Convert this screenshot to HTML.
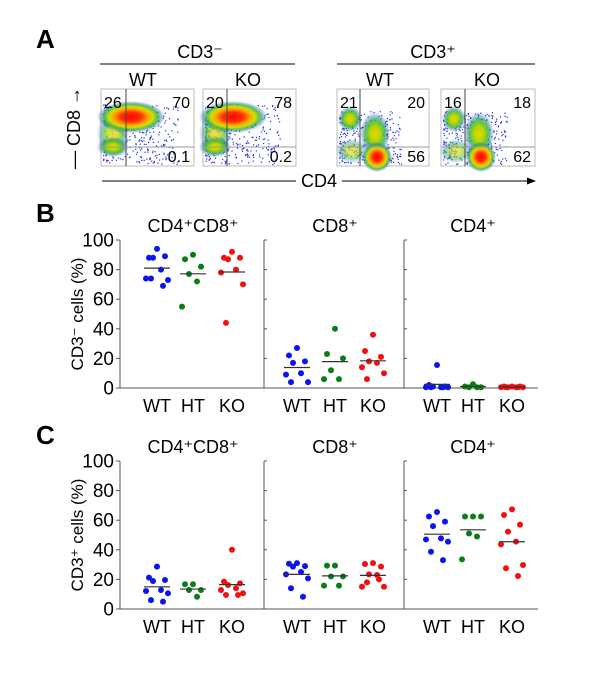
<!DOCTYPE html>
<html><head><meta charset="utf-8"><style>
body{margin:0;background:#fff;}
svg{display:block;font-family:"Liberation Sans",sans-serif;}
</style></head><body>
<svg id="fig" width="600" height="676" viewBox="0 0 600 676" xmlns="http://www.w3.org/2000/svg">
<defs>
<radialGradient id="heat" cx="50%" cy="50%" r="50%">
<stop offset="0" stop-color="#ff0000"/><stop offset="0.3" stop-color="#ff3000"/><stop offset="0.5" stop-color="#ffa000"/><stop offset="0.65" stop-color="#d0e000"/><stop offset="0.8" stop-color="#30b040" stop-opacity="0.8"/><stop offset="1" stop-color="#2040ff" stop-opacity="0"/>
</radialGradient>
<radialGradient id="heatG" cx="50%" cy="50%" r="50%">
<stop offset="0" stop-color="#f0d000"/><stop offset="0.35" stop-color="#b0d800"/><stop offset="0.65" stop-color="#30b040" stop-opacity="0.8"/><stop offset="1" stop-color="#2040ff" stop-opacity="0"/>
</radialGradient>
</defs>
<g id="flow"></g>
<g id="panelA-text" font-size="18" fill="#000">
<text x="36" y="48" font-size="26" font-weight="bold">A</text>
<text x="200" y="58" text-anchor="middle">CD3⁻</text>
<line x1="100" y1="64" x2="295" y2="64" stroke="#000" stroke-width="1"/>
<text x="433" y="58" text-anchor="middle">CD3⁺</text>
<line x1="337" y1="64" x2="535" y2="64" stroke="#000" stroke-width="1"/>
<text x="143" y="86" text-anchor="middle">WT</text>
<text x="248" y="86" text-anchor="middle">KO</text>
<text x="380" y="86" text-anchor="middle">WT</text>
<text x="487" y="86" text-anchor="middle">KO</text>
<line x1="102" y1="181" x2="296" y2="181" stroke="#000"/>
<line x1="342" y1="181" x2="530" y2="181" stroke="#000"/>
<polygon points="536,181 527,177.5 527,184.5" fill="#000"/>
<text x="319" y="187" text-anchor="middle">CD4</text>
<g transform="translate(80,128) rotate(-90)"><text x="0" y="0" text-anchor="middle">— CD8 →</text></g>
</g>
<g id="panelB"></g>
<g id="panelC"></g>
</svg>
<script>
// ---- Data ----
const groups = ["WT","HT","KO"];
const subsets = ["CD4⁺CD8⁺","CD8⁺","CD4⁺"];
const yTicks = [0,20,40,60,80,100];
// Panel B: CD3- cells (%)
const bDP_WT=[94,88,89,88,80,74,73,74,69], bDP_HT=[90,87,82,77,72,55], bDP_KO=[92,88,88,87,80,78,70,44];
const bCD8_WT=[27,22,18,17,10,9,4,4], bCD8_HT=[40,23,20,12,6,6], bCD8_KO=[36,25,21,18,17,14,10,6];
const bCD4_WT=[15.5,2,1,1,0.5,0.5,0.5,0.5,0.5], bCD4_HT=[2.5,1,0.5,0.5,0.5], bCD4_KO=[1,1,1,0.5,0.5,0.5,0.5,0.5,0.5];
// Panel C: CD3+ cells (%)
const cDP_WT=[28.6,21.2,19.6,18.9,12.8,12.2,10.6,6,5], cDP_HT=[16.7,16.7,12.8,12.8,8.3], cDP_KO=[40,18.5,17.3,16.2,14,12.8,10.6,9.5,9.5];
const cCD8_WT=[31,30.6,29,28.6,25,23.4,20.7,14,8.3], cCD8_HT=[29.3,29.3,22,22,15.8,15.8], cCD8_KO=[31,30.4,28.6,23.4,23,15,15,18,20];
const cCD4_WT=[65.5,62.5,59,56,47.7,47,45.5,38.7,33], cCD4_HT=[62.5,62.5,62.5,51,49,33.5], cCD4_KO=[67.3,63.5,57,52.3,45.5,43.7,29.7,27.5,22.3];
// Flow quadrant percentages
const flowLabels=[["26","70","0.1"],["20","78","0.2"],["21","20","56"],["16","18","62"]];

const NS="http://www.w3.org/2000/svg";
function mk(tag,attrs,parent){const e=document.createElementNS(NS,tag);for(const k in attrs)e.setAttribute(k,attrs[k]);parent.appendChild(e);return e;}
const colors=["#0a14f0","#0b7d16","#f01010"];
const groupX=[[157,193,232],[297,335,373],[437,473,512]];
const jit=[0,-8,8,-4,4,-11,11,-6,6];

function panel(gid,top,bottom,yTitle,letter,letterY,data,prefix){
  const g=document.getElementById(gid);
  const y=v=>bottom-(v/100)*(bottom-top);
  const L=mk('text',{x:36,y:letterY,'font-size':26,'font-weight':'bold'},g);L.textContent=letter;
  
  
  mk('line',{x1:120,y1:top,x2:120,y2:bottom,stroke:'#555'},g);
  mk('line',{x1:120,y1:bottom,x2:538,y2:bottom,stroke:'#555'},g);
  [264,404].forEach(sx=>{mk('line',{x1:sx,y1:top,x2:sx,y2:bottom,stroke:'#555'},g);
    yTicks.forEach(t=>mk('line',{x1:sx,y1:y(t),x2:sx+3,y2:y(t),stroke:'#555'},g));});
  yTicks.forEach(t=>{mk('line',{x1:116,y1:y(t),x2:120,y2:y(t),stroke:'#555'},g);
    const tx=mk('text',{x:114,y:y(t)+6.5,'text-anchor':'end','font-size':19},g);tx.textContent=t;
    
    });
  const yt=mk('text',{x:0,y:0,'text-anchor':'middle','font-size':17,transform:`translate(83,${(top+bottom)/2}) rotate(-90)`},g);
  yt.textContent=yTitle;
  
  
  subsets.forEach((s,pi)=>{
    const st=mk('text',{x:groupX[pi][1],y:top-8,'text-anchor':'middle','font-size':18},g);st.textContent=s;
    
    
    groups.forEach((gr,gi)=>{
      const cx=groupX[pi][gi];
      const lb=mk('text',{x:cx,y:bottom+24,'text-anchor':'middle','font-size':18},g);lb.textContent=gr;
      
      
      const vals=data[pi][gi];
      vals.forEach((v,i)=>{const c=mk('circle',{cx:cx+jit[i%jit.length],cy:y(v),r:3,fill:colors[gi]},g);
        
        });
      const m=vals.reduce((a,b)=>a+b,0)/vals.length;
      const ml=mk('line',{x1:cx-13,y1:y(m),x2:cx+13,y2:y(m),stroke:'#333','stroke-width':1.2},g);
      
      
    });
  });
}
panel('panelB',240,388,'CD3⁻ cells (%)','B',222,[[bDP_WT,bDP_HT,bDP_KO],[bCD8_WT,bCD8_HT,bCD8_KO],[bCD4_WT,bCD4_HT,bCD4_KO]],'b');
panel('panelC',461,609,'CD3⁺ cells (%)','C',444,[[cDP_WT,cDP_HT,cDP_KO],[cCD8_WT,cCD8_HT,cCD8_KO],[cCD4_WT,cCD4_HT,cCD4_KO]],'c');

// ---- Flow plots (texture) ----
const fg=document.getElementById('flow');
const boxes=[[101,89,194,166,126,147,0],[203,89,296,166,227,147,0],[337,89,429,166,360,147,1],[441,89,535,166,465,147,1]];
let seed=7;function rnd(){seed=(seed*16807)%2147483647;return seed/2147483647;}
boxes.forEach((b,k)=>{
  const [x0,y0,x1,y1,qx,qy,type]=b;
  const grp=mk('g',{},fg);
  
  
  mk('rect',{x:x0,y:y0,width:x1-x0,height:y1-y0,fill:'#fff',stroke:'#bbb'},grp);
  for(let i=0;i<300;i++){let px,py;
    if(type===0){px=x0+2+Math.pow(rnd(),1.5)*(x1-x0-18);py=y0+15+Math.pow(rnd(),0.9)*(y1-y0-17);}
    else{px=x0+2+Math.pow(rnd(),1.3)*(x1-x0-30);py=y0+22+rnd()*(y1-y0-24);}
    mk('rect',{x:px,y:py,width:1.2,height:1.2,fill:'#2030e0'},grp);}
  if(type===0){
    mk('ellipse',{cx:x0+12,cy:y0+45,rx:16,ry:22,fill:'url(#heatG)',opacity:0.75},grp);
    mk('ellipse',{cx:x0+12,cy:y0+58,rx:16,ry:10,fill:'url(#heatG)'},grp);
    mk('ellipse',{cx:x0+30,cy:y0+28,rx:34,ry:16,fill:'url(#heat)'},grp);
  }else{
    mk('ellipse',{cx:x0+13,cy:y0+30,rx:12,ry:13,fill:'url(#heatG)'},grp);
    mk('ellipse',{cx:x0+38,cy:y0+45,rx:15,ry:22,fill:'url(#heatG)'},grp);
    mk('ellipse',{cx:x0+15,cy:y0+62,rx:16,ry:12,fill:'url(#heatG)',opacity:0.6},grp);
    mk('circle',{cx:x0+40,cy:y0+68,r:15,fill:'url(#heat)'},grp);
  }
  mk('line',{x1:qx,y1:y0,x2:qx,y2:y1,stroke:'#444','stroke-width':1},grp);
  mk('line',{x1:x0,y1:qy,x2:x1,y2:qy,stroke:'#999','stroke-width':1},grp);
  const L=flowLabels[k];
  const t1=mk('text',{x:x0+3,y:y0+19,'font-size':16},grp);t1.textContent=L[0];
  
  
  const t2=mk('text',{x:x1-4,y:y0+19,'font-size':16,'text-anchor':'end'},grp);t2.textContent=L[1];
  
  
  const t3=mk('text',{x:x1-4,y:y1-4,'font-size':16,'text-anchor':'end'},grp);t3.textContent=L[2];
  
  
});
</script>
</body></html>
